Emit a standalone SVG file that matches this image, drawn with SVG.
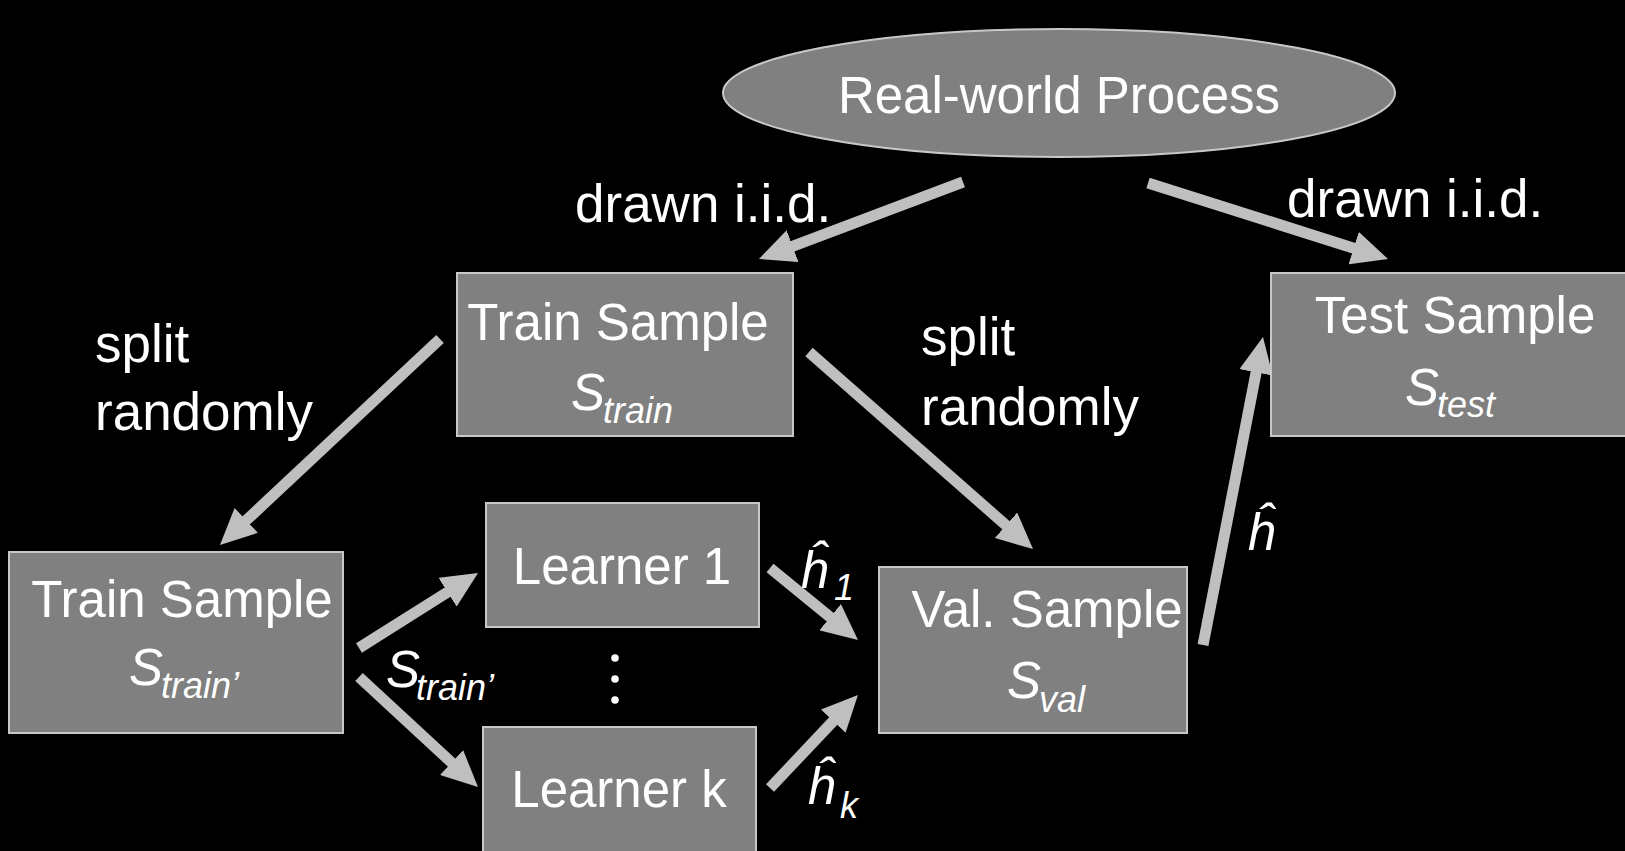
<svg xmlns="http://www.w3.org/2000/svg" width="1625" height="851" viewBox="0 0 1625 851">
<defs>
<style>
.box{fill:#808080;stroke:#c8c8c8;stroke-width:2}
.t{font-family:"Liberation Sans",Arial,sans-serif;font-size:51px;fill:#ffffff}
.lb{font-size:53px}
.m{font-family:"Liberation Sans",Arial,sans-serif;font-style:italic;fill:#ffffff}
.big{font-size:51px}
.sub{font-size:36px}
.arr{stroke:#bfbfbf;stroke-width:11;fill:none;marker-end:url(#ah)}
</style>
<marker id="ah" markerUnits="userSpaceOnUse" markerWidth="36" markerHeight="34" viewBox="0 0 36 34" refX="1" refY="17" orient="auto">
<path d="M0,0 L36,17 L0,34 z" fill="#bfbfbf"/>
</marker>
</defs>
<rect width="1625" height="851" fill="#000000"/>

<g id="connectors">
<line class="arr" x1="963" y1="182" x2="791.7" y2="246.6"/>
<line class="arr" x1="1148" y1="183" x2="1354.6" y2="248.4"/>
<line class="arr" x1="440" y1="339" x2="245.5" y2="521.1"/>
<line class="arr" x1="809" y1="352" x2="1006.7" y2="525.9"/>
<line class="arr" x1="359" y1="648" x2="448.4" y2="591.7"/>
<line class="arr" x1="359" y1="677" x2="452.3" y2="763.2"/>
<line class="arr" x1="770" y1="568" x2="830.9" y2="617.8"/>
<line class="arr" x1="770" y1="788" x2="833.9" y2="720.4"/>
<line class="arr" x1="1203" y1="645" x2="1256.3" y2="371.4"/>
</g>

<g id="labels">
<text class="t lb" x="575" y="222">drawn i.i.d.</text>
<text class="t lb" x="1287" y="217">drawn i.i.d.</text>
<text class="t lb" x="95" y="362">split</text>
<text class="t lb" x="95" y="430">randomly</text>
<text class="t lb" x="921" y="355">split</text>
<text class="t lb" x="921" y="425">randomly</text>
<text class="m"><tspan class="big" x="386" y="687">S</tspan><tspan class="sub" x="416" y="700">train’</tspan></text>
<text class="m"><tspan class="big" x="801" y="588">ĥ</tspan><tspan class="sub" x="834" y="600">1</tspan></text>
<text class="m"><tspan class="big" x="808" y="804">ĥ</tspan><tspan class="sub" x="840" y="818">k</tspan></text>
<text class="m big" x="1248" y="550">ĥ</text>
<circle cx="615" cy="658" r="3.8" fill="#ffffff"/>
<circle cx="615" cy="679" r="3.8" fill="#ffffff"/>
<circle cx="615" cy="700" r="3.8" fill="#ffffff"/>
</g>

<g id="real-world-process">
<ellipse class="box" cx="1059" cy="93" rx="336" ry="64"/>
<text class="t" x="1059" y="113" text-anchor="middle">Real-world Process</text>
</g>

<g id="train-sample">
<rect class="box" x="457" y="273" width="336" height="163"/>
<text class="t" x="618" y="340" text-anchor="middle">Train Sample</text>
<text class="m"><tspan class="big" x="571" y="410">S</tspan><tspan class="sub" x="603" y="423">train</tspan></text>
</g>

<g id="test-sample">
<rect class="box" x="1271" y="273" width="380" height="163"/>
<text class="t" x="1455" y="333" text-anchor="middle">Test Sample</text>
<text class="m"><tspan class="big" x="1405" y="405">S</tspan><tspan class="sub" x="1437" y="417">test</tspan></text>
</g>

<g id="train-sample-prime">
<rect class="box" x="9" y="552" width="334" height="181"/>
<text class="t" x="182" y="617" text-anchor="middle">Train Sample</text>
<text class="m"><tspan class="big" x="129" y="685">S</tspan><tspan class="sub" x="161" y="698">train’</tspan></text>
</g>

<g id="learner-1">
<rect class="box" x="486" y="503" width="273" height="124"/>
<text class="t" x="622" y="584" text-anchor="middle">Learner 1</text>
</g>

<g id="learner-k">
<rect class="box" x="483" y="727" width="273" height="140"/>
<text class="t" x="619" y="807" text-anchor="middle">Learner k</text>
</g>

<g id="val-sample">
<rect class="box" x="879" y="567" width="308" height="166"/>
<text class="t" x="1047" y="627" text-anchor="middle">Val. Sample</text>
<text class="m"><tspan class="big" x="1007" y="698">S</tspan><tspan class="sub" x="1039" y="712">val</tspan></text>
</g>
</svg>
